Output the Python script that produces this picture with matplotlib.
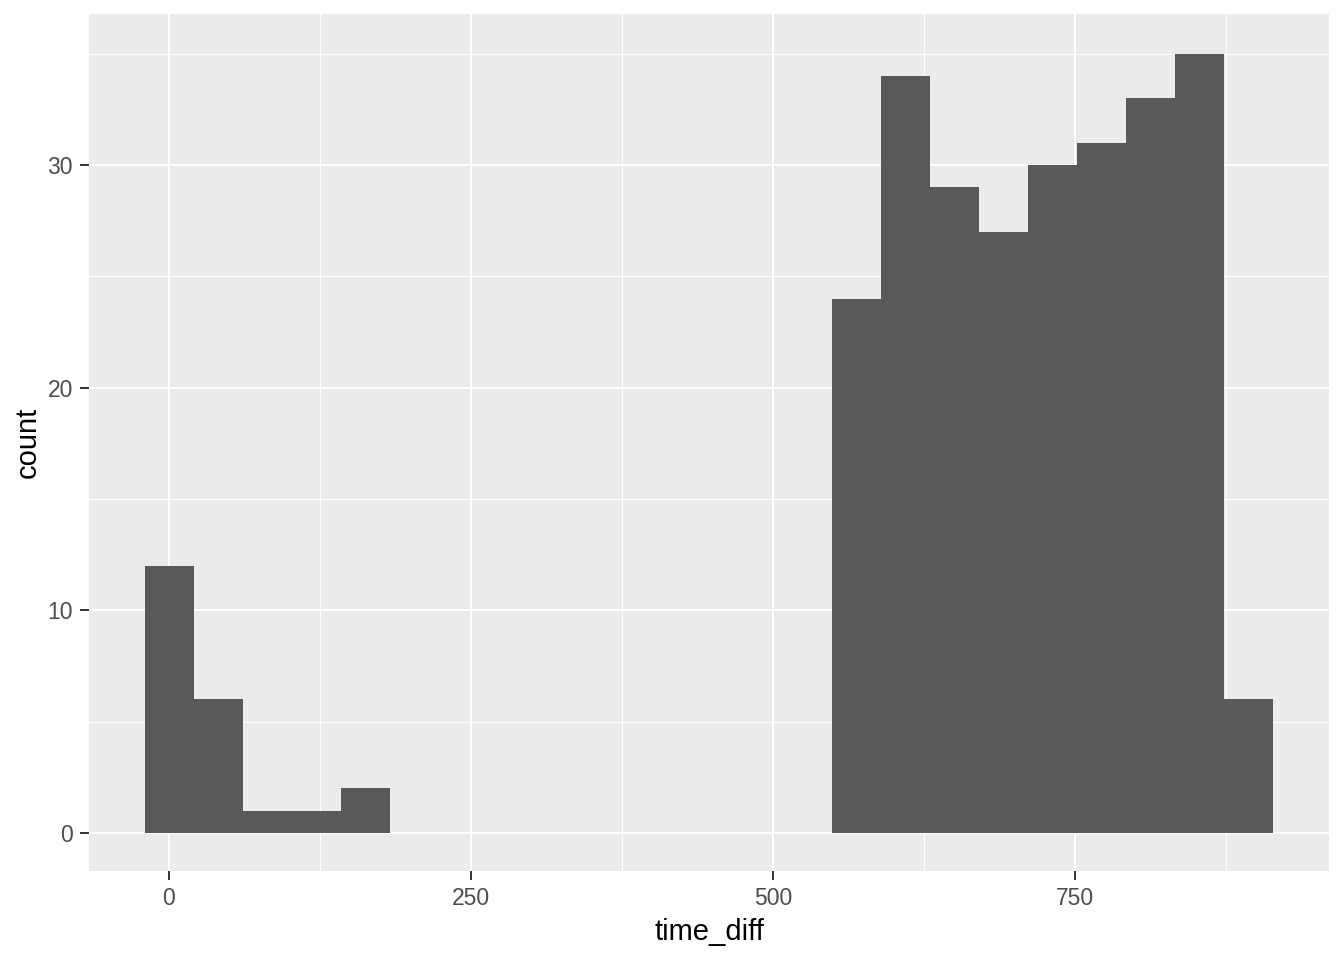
import numpy as np
import matplotlib
matplotlib.use("Agg")
import matplotlib.pyplot as plt

# histogram bins (time_diff)
bin_start = -19.9
bin_width = 40.6
counts = [12, 6, 1, 1, 2, 0, 0, 0, 0, 0, 0, 0, 0, 0,
          24, 34, 29, 27, 30, 31, 33, 35, 6]
x_ticks = [0, 250, 500, 750]
y_ticks = [0, 10, 20, 30]

plt.rcParams['font.family'] = ['Liberation Sans', 'DejaVu Sans']

left_edges = bin_start + bin_width * np.arange(len(counts))

fig = plt.figure(figsize=(13.44, 9.6), dpi=100)
ax = fig.add_axes([89/1344, 1 - 871/960, (1329 - 89)/1344, (871 - 14)/960])
ax.set_facecolor('#EBEBEB')

# grid
for v in [125, 375, 625, 875]:
    ax.axvline(v, color='white', lw=0.75, zorder=0.5)
for v in [5, 15, 25, 35]:
    ax.axhline(v, color='white', lw=0.75, zorder=0.5)
for v in x_ticks:
    ax.axvline(v, color='white', lw=1.5, zorder=0.6)
for v in y_ticks:
    ax.axhline(v, color='white', lw=1.5, zorder=0.6)

ax.bar(left_edges, counts, width=bin_width, align='edge', color='#595959', zorder=2)

ax.set_xlim(-66.2, 960.3)
ax.set_ylim(-1.71, 36.78)
ax.set_xticks(x_ticks)
ax.set_yticks(y_ticks)
for s in ax.spines.values():
    s.set_visible(False)
ax.tick_params(length=6.5, width=1.4, color='#333333', labelcolor='#4D4D4D',
               labelsize=16.5, pad=5)
ax.set_xlabel('time_diff', fontsize=21, color='black', labelpad=6)
ax.set_ylabel('count', fontsize=21, color='black', labelpad=4)

fig.savefig('out.png', dpi=100)
